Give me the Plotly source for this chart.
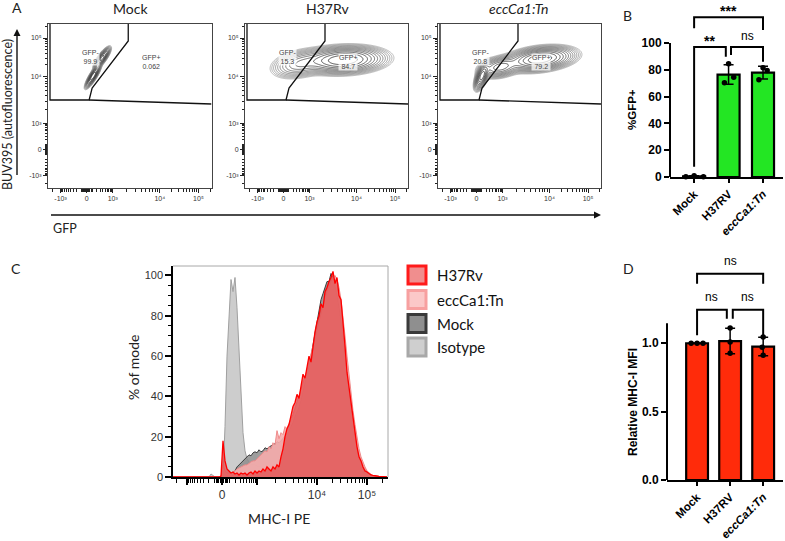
import numpy as np
import plotly.graph_objects as go

W, H = 785, 541

# ======================= DATA =======================
# ---- Panel A: flow contour plots (values on the biexponential display scale) ----
FLOW_TITLES = ["Mock", "H37Rv", "<i>eccCa1:Tn</i>"]
# populations: (centre x, centre y, spread x, spread y, correlation, weight)
POP_MOCK = [(45, 112, 3.0, 4.6, 0.85, 1.0), (54, 130, 3.2, 4.2, 0.8, 0.85)]
POP_H37RV = [(98, 128, 17.0, 5.5, 0.12, 1.0), (55, 124, 12.0, 6.0, 0.3, 0.25)]
POP_ECC = [(102, 129, 14.0, 5.0, 0.3, 1.0), (62, 121, 9.0, 4.5, 0.3, 0.45),
           (44, 112, 3.0, 5.5, 0.6, 0.9)]
POPULATIONS = [POP_MOCK, POP_H37RV, POP_ECC]
GFP_NEG_PCT = ["99.9", "15.3", "20.8"]
GFP_POS_PCT = ["0.062", "84.7", "79.2"]
GATE_NEG_X = [2, 2, 41, 44, 80, 80]
GATE_NEG_Y = [164, 88, 88, 100, 147, 164]
GATE_POS_X = [41, 163]
GATE_POS_Y = [88, 84]
LABEL_NEG_XY = (42, 131)
LABEL_POS_XY = (103, 126)

# ---- Panel B: %GFP+ ----
CATS = ["Mock", "H37RV", "eccCa1:Tn"]
GFP_MOCK = [0.1, 1.0, 0.2]
GFP_H37RV = [70.4, 84.5, 74.4]
GFP_ECC = [72.5, 81.5, 79.5]
B_JITTER = [[-0.24, 0.0, 0.27], [-0.12, 0.0, 0.15], [-0.12, 0.0, 0.12]]

# ---- Panel D: relative MHC-I MFI ----
MFI_MOCK = [1.0, 1.0, 1.0]
MFI_H37RV = [0.927, 1.01, 1.112]
MFI_ECC = [0.912, 0.97, 1.046]
D_JITTER = [[-0.18, 0.0, 0.18], [0.0, 0.0, 0.0], [0.0, -0.03, 0.0]]

# ---- Panel C: MHC-I PE histograms (% of mode) on display scale ----
HIST_X = list(range(0, 216, 2))
HIST_ISOTYPE = [
    0, 0, 0, 0, 0, 0, 0, 0, 0, 0, 0, 0, 0, 0, 0, 0, 0, 0,
    0, 1.5, 0.5, 0, 0, 0, 0, 1, 25, 60,
    78, 98, 92, 99, 84, 62, 38, 22, 13, 9,
    7.5, 6.5, 6.5, 6, 5.5, 5.5, 5, 5, 4.5, 4.5,
    4, 4, 3.5, 3, 3, 2.5, 2, 2, 1.5, 1,
    1, 0.5, 0.5, 0, 0, 0, 0, 0, 0, 0,
    0, 0, 0, 0, 0, 0, 0, 0, 0, 0,
    0, 0, 0, 0, 0, 0, 0, 0, 0, 0,
    0, 0, 0, 0, 0, 0, 0, 0, 0, 0,
    0, 0, 0, 0, 0, 0, 0, 0, 0, 0]
HIST_MOCK = [
    0, 0, 0, 0, 0, 0, 0, 0, 0, 0, 0, 0, 0, 0, 0, 0, 0, 0,
    0, 0, 0, 0, 0, 0, 0, 0, 0, 0,
    0, 0, 1, 3, 5, 6, 7, 8, 9, 10,
    11, 10.5, 12, 12.5, 12, 13.5, 12.5, 13, 14.5, 14,
    15, 15.5, 16, 16.5, 17.5, 17, 18, 19, 20.5, 21,
    22.5, 25, 27, 30, 32, 34.5, 38, 42, 46, 50,
    55, 60, 66, 72, 78, 83, 88, 91, 94, 97,
    97, 101, 99, 95, 90, 84, 78, 70, 60, 50,
    42, 34, 27, 21, 15, 11, 8, 6, 4, 2.5,
    1.5, 0.5, 0, 0, 0, 0, 0, 0, 0, 0]
HIST_ECC = [
    0, 0, 0, 0, 0, 0, 0, 0, 0, 0, 0, 0, 0, 0, 0, 0, 0, 0,
    0, 0, 0, 0, 0, 0, 0, 6, 3, 2,
    2, 2, 2.5, 3, 4, 4.5, 5, 5.5, 6, 6,
    7, 7.5, 8, 8, 9, 10, 10.5, 12, 13, 12.5,
    15, 14, 17, 16, 23, 19, 22, 21, 25, 24,
    27, 29, 31, 34, 37, 40, 44, 47, 50, 53,
    57, 61, 65, 69, 74, 78, 82, 86, 89, 92,
    95, 97, 99, 100, 98, 94, 88, 80, 70, 60,
    50, 41, 33, 26, 19, 14, 10, 7, 5, 3,
    2, 1, 0.5, 0, 0, 0, 0, 0, 0, 0]
HIST_H37RV = [
    0, 0, 0, 0, 0, 0, 0, 0, 0, 0, 0, 0, 0, 0, 0, 0, 0, 0,
    0, 0, 0, 0, 0, 0, 0.5, 18, 8, 4,
    3, 2, 2.5, 1.5, 2, 1, 2, 1.5, 2, 1,
    2, 2.5, 1.5, 3, 2, 3, 2.5, 4, 3, 5,
    4, 3, 5, 4, 6, 5, 10, 14, 20, 24,
    26, 31, 35, 37, 41, 39, 46, 51, 49, 55,
    60, 57, 66, 72, 77, 80, 86, 84, 92, 94,
    97, 99, 102, 96, 99, 90, 88, 78, 65, 52,
    44, 36, 28, 21, 15, 10, 8, 5, 3, 2.5,
    1.5, 1, 0.8, 0.5, 0.5, 0.3, 0.2, 0, 0, 0]
LEGEND_NAMES = ["H37Rv", "eccCa1:Tn", "Mock", "Isotype"]

# ======================= HELPERS =======================
def xp(p):
    return p / W


def yp(p):
    return 1 - p / H


def biex(v, zero, half, dec1, dec2):
    """display position of a fluorescence value on a logicle-like axis"""
    if abs(v) <= 1000:
        return zero + half * np.sign(v) * np.arcsinh(abs(v) / 200) / np.arcsinh(5)
    if v < -1000:
        return zero - half - half * np.log10(-v / 1000)
    if v <= 1e4:
        return zero + half + dec1 * np.log10(v / 1000)
    return zero + half + dec1 + dec2 * np.log10(v / 1e4)


def minor_vals(zero, half, dec1, dec2, lo, hi):
    vals = []
    for k in list(range(20, 100, 20)) + list(range(100, 1000, 100)):
        vals += [k, -k]
    vals += [k * 1e3 for k in range(2, 10)] + [k * 1e4 for k in range(2, 10)]
    vals += [2e5, -2000]
    out = [biex(v, zero, half, dec1, dec2) for v in vals]
    return sorted(p for p in out if lo <= p <= hi)


MAJOR_VALS = [-1000, 0, 1000, 1e4, 1e5]
A_TICKS = [biex(v, 38.5, 26, 47, 38.5) for v in MAJOR_VALS]
A_MINOR = minor_vals(38.5, 26, 47, 38.5, 0, 163)
A_TEXT = ["-10\u00b3", "0", "10\u00b3", "10\u2074", "10\u2075"]
C_TICKS = [biex(v, 49, 35, 60, 50) for v in MAJOR_VALS]
C_MINOR = minor_vals(49, 35, 60, 50, 0, 215)
C_TEXT = [" ", "0", " ", "10\u2074", "10\u2075"]

FLOW_FONT = "Lato, Open Sans, sans-serif"
ARIAL = "Liberation Sans, Arial, DejaVu Sans, sans-serif"

fig = go.Figure()
layout = dict(width=W, height=H, margin=dict(l=0, r=0, t=0, b=0),
              paper_bgcolor="white", plot_bgcolor="white", template="none",
              showlegend=False)
annotations = []
shapes = []


def paper_text(text, x, y, size, family=FLOW_FONT, angle=0, xanchor="center",
               color="#222"):
    annotations.append(dict(text=text, x=xp(x), y=yp(y), xref="paper", yref="paper",
                            xanchor=xanchor, yanchor="middle", showarrow=False,
                            textangle=angle,
                            font=dict(size=size, family=family, color=color)))


# ======================= PANEL A =======================
FLOW_X = [(48, 211.5), (245, 408), (438, 601)]
FLOW_TITLE_X = [130, 327, 519]
xs = np.arange(0, 163.6, 0.6)
ys = np.arange(0, 164.6, 0.6)
XX, YY = np.meshgrid(xs, ys)
for i, pops in enumerate(POPULATIONS):
    sfx = "" if i == 0 else str(i + 1)
    z = np.zeros_like(XX)
    for cx, cy, sx, sy, rho, w in pops:
        dx = (XX - cx) / sx
        dy = (YY - cy) / sy
        z += w * np.exp(-(dx * dx - 2 * rho * dx * dy + dy * dy) / (2 * (1 - rho ** 2)))
    zl = np.log10(np.maximum(z / z.max(), 1e-4))
    fig.add_trace(go.Contour(
        x=xs, y=ys, z=zl, xaxis="x" + sfx, yaxis="y" + sfx,
        contours=dict(start=-1.95, end=-0.05, size=0.15, coloring="lines"),
        line=dict(width=0.8), colorscale=[[0, "#a8a8a8"], [1, "#222222"]],
        zmin=-2, zmax=0, zauto=False, showscale=False, hoverinfo="skip"))
    fig.add_trace(go.Scatter(x=GATE_NEG_X, y=GATE_NEG_Y, mode="lines",
                             line=dict(color="#111", width=1.3),
                             xaxis="x" + sfx, yaxis="y" + sfx, hoverinfo="skip"))
    fig.add_trace(go.Scatter(x=GATE_POS_X, y=GATE_POS_Y, mode="lines",
                             line=dict(color="#111", width=1.3),
                             xaxis="x" + sfx, yaxis="y" + sfx, hoverinfo="skip"))
    common = dict(showgrid=False, zeroline=False, showline=True, linecolor="#444",
                  linewidth=1, mirror=True, tickmode="array", tickvals=A_TICKS,
                  ticktext=A_TEXT, ticks="outside", ticklen=4, tickwidth=1,
                  tickcolor="#222", tickfont=dict(size=7, family=ARIAL, color="#333"),
                  minor=dict(tickmode="array", tickvals=A_MINOR, ticks="outside",
                             ticklen=2.5, tickwidth=0.8, tickcolor="#222"))
    layout["xaxis" + sfx] = dict(domain=[xp(FLOW_X[i][0]), xp(FLOW_X[i][1])],
                                 anchor="y" + sfx, range=[0, 163], **common)
    layout["yaxis" + sfx] = dict(domain=[yp(188), yp(24)], anchor="x" + sfx,
                                 range=[0, 164], **common)
    paper_text(FLOW_TITLES[i], FLOW_TITLE_X[i], 9, 14)
    for (lx, ly), lab in ((LABEL_NEG_XY, "GFP-<br>" + GFP_NEG_PCT[i]),
                          (LABEL_POS_XY, "GFP+<br>" + GFP_POS_PCT[i])):
        annotations.append(dict(text=lab, x=lx, y=ly, xref="x" + sfx, yref="y" + sfx,
                                showarrow=False, bgcolor="rgba(255,255,255,0.75)",
                                borderpad=0, xanchor="center", yanchor="middle",
                                font=dict(size=7, family=ARIAL, color="#444")))

# arrows and axis names for A
annotations.append(dict(x=xp(17), y=yp(29), ax=0, ay=156, xref="paper", yref="paper",
                        axref="pixel", ayref="pixel", showarrow=True, arrowhead=2,
                        arrowsize=1, arrowwidth=1.4, arrowcolor="#111", text=" "))
annotations.append(dict(x=xp(601), y=yp(215), ax=-553, ay=0, xref="paper", yref="paper",
                        axref="pixel", ayref="pixel", showarrow=True, arrowhead=2,
                        arrowsize=1, arrowwidth=1.4, arrowcolor="#111", text=" "))
paper_text("BUV395 (autofluorescence)", 7, 115, 12.5, angle=-90)
paper_text("GFP", 51, 228, 12.5, xanchor="left")

# ======================= PANELS B and D =======================
def bar_panel(sfx, values, jitter, color, xdom, ydom, xrange, yrange, ytickvals,
              yticktext, axis_top, width, brackets, labels):
    means = [float(np.mean(v)) for v in values]
    sds = [float(np.std(v, ddof=1)) for v in values]
    fig.add_trace(go.Bar(x=[0, 1, 2], y=means, width=width,
                         marker=dict(color=color, line=dict(color="black", width=2.2)),
                         error_y=dict(type="data", array=sds, color="black",
                                      thickness=1.5, width=5),
                         xaxis="x" + sfx, yaxis="y" + sfx, hoverinfo="skip"))
    px_, py_ = [], []
    for i, v in enumerate(values):
        for j, val in enumerate(v):
            px_.append(i + jitter[i][j])
            py_.append(val)
    fig.add_trace(go.Scatter(x=px_, y=py_, mode="markers",
                             marker=dict(color="black", size=5.5),
                             xaxis="x" + sfx, yaxis="y" + sfx, hoverinfo="skip",
                             cliponaxis=False))
    bx, by = [], []
    for x0, x1, yb, yl0, yl1 in brackets:
        bx += [x0, x0, x1, x1, None]
        by += [yl0, yb, yb, yl1, None]
    fig.add_trace(go.Scatter(x=bx, y=by, mode="lines",
                             line=dict(color="black", width=2),
                             xaxis="x" + sfx, yaxis="y" + sfx, hoverinfo="skip"))
    for (x0, x1, yb, _, _), (txt, size, shift) in zip(brackets, labels):
        annotations.append(dict(text=txt, x=(x0 + x1) / 2, y=yb, xref="x" + sfx,
                                yref="y" + sfx, showarrow=False, xanchor="center",
                                yanchor="bottom", yshift=shift,
                                font=dict(size=size, family=ARIAL, color="black")))
    layout["xaxis" + sfx] = dict(
        domain=[xp(xdom[0]), xp(xdom[1])], anchor="y" + sfx, range=xrange,
        showgrid=False, zeroline=False, showline=True, linecolor="black", linewidth=2,
        tickmode="array", tickvals=[0, 1, 2],
        ticktext=["<b>Mock</b>", "<b>H37RV</b>", "<b><i>eccCa1:Tn</i></b>"],
        tickangle=-45, ticks="outside", ticklen=4, tickwidth=2, tickcolor="black",
        tickfont=dict(size=11.5, family=ARIAL, color="black"))
    layout["yaxis" + sfx] = dict(
        domain=[yp(ydom[1]), yp(ydom[0])], anchor="x" + sfx, range=yrange,
        showgrid=False, zeroline=False, showline=False, tickmode="array",
        tickvals=ytickvals, ticktext=yticktext, ticks="outside", ticklen=5,
        tickwidth=2, tickcolor="black",
        tickfont=dict(size=12, family=ARIAL, color="black"))
    shapes.append(dict(type="line", xref="x" + sfx + " domain", yref="y" + sfx,
                       x0=0, x1=0, y0=0, y1=axis_top,
                       line=dict(color="black", width=2)))


B_BRACKETS = [(0, 2, 119.2, 111, 109.7), (0, 0.92, 97, 7.7, 89.8),
              (1.07, 2, 97, 91, 86)]
B_LABELS = [("<b>***</b>", 14, -4), ("<b>**</b>", 14, -4), ("ns", 12, 2)]
bar_panel("4", [GFP_MOCK, GFP_H37RV, GFP_ECC], B_JITTER, "#23e623",
          (670, 783), (13.5, 177), [-0.7, 2.58], [0, 122],
          [0, 20, 40, 60, 80, 100], ["<b>%d</b>" % v for v in [0, 20, 40, 60, 80, 100]],
          100, 0.64, B_BRACKETS, B_LABELS)

D_BRACKETS = [(0, 2, 1.509, 1.436, 1.436), (0, 0.9, 1.246, 1.058, 1.18),
              (1.08, 2, 1.246, 1.18, 1.058)]
D_LABELS = [("ns", 12, 4), ("ns", 12, 4), ("ns", 12, 4)]
bar_panel("5", [MFI_MOCK, MFI_H37RV, MFI_ECC], D_JITTER, "#ff2b0a",
          (667, 783), (270.8, 480), [-0.91, 2.6], [0, 1.53],
          [0, 0.5, 1.0], ["<b>0.0</b>", "<b>0.5</b>", "<b>1.0</b>"],
          1.146, 0.66, D_BRACKETS, D_LABELS)

paper_text("<b>%GFP+</b>", 632, 110, 11.5, family=ARIAL, angle=-90, color="black")
paper_text("<b>Relative MHC-I MFI</b>", 633, 402, 12, family=ARIAL, angle=-90,
           color="black")

# ======================= PANEL C =======================
HIST_STYLE = [
    (HIST_ISOTYPE, "#a0a0a0", "rgba(205,205,205,1)", 1.0),
    (HIST_MOCK, "#3c3c3c", "rgba(140,140,140,0.85)", 1.0),
    (HIST_ECC, "#f08a8a", "rgba(246,172,172,0.9)", 1.0),
    (HIST_H37RV, "#ff0000", "rgba(226,82,82,0.78)", 1.3),
]
for yv, lc, fc, lw in HIST_STYLE:
    fig.add_trace(go.Scatter(x=HIST_X, y=yv, mode="lines", fill="tozeroy",
                             line=dict(color=lc, width=lw), fillcolor=fc,
                             xaxis="x6", yaxis="y6", hoverinfo="skip"))
layout["xaxis6"] = dict(
    domain=[xp(173), xp(388)], anchor="y6", range=[0, 215], showgrid=False,
    zeroline=False, showline=True, linecolor="black", linewidth=1.5,
    tickmode="array", tickvals=C_TICKS, ticktext=C_TEXT, ticks="outside",
    ticklen=6, tickwidth=2, tickcolor="black",
    tickfont=dict(size=12, family=ARIAL, color="#333"),
    minor=dict(tickmode="array", tickvals=C_MINOR, ticks="outside", ticklen=4,
               tickwidth=1, tickcolor="black"))
layout["yaxis6"] = dict(
    domain=[yp(477), yp(266)], anchor="x6", range=[0, 104.7], showgrid=False,
    zeroline=False, showline=True, linecolor="black", linewidth=1.5,
    tickmode="array", tickvals=[0, 20, 40, 60, 80, 100], ticks="outside",
    ticklen=6, tickwidth=2, tickcolor="black",
    tickfont=dict(size=11, family=ARIAL, color="#333"),
    minor=dict(dtick=5, ticks="outside", ticklen=3.5, tickwidth=1, tickcolor="black"))
shapes.append(dict(type="line", xref="x6 domain", yref="y6 domain", x0=0, x1=1,
                   y0=1, y1=1, line=dict(color="#a8a8a8", width=1)))
shapes.append(dict(type="line", xref="x6 domain", yref="y6 domain", x0=1, x1=1,
                   y0=0, y1=1, line=dict(color="#a8a8a8", width=1)))
paper_text("MHC-I PE", 279, 518, 14)
paper_text("% of mode", 133, 367, 14, angle=-90)

# legend for C
LEG_STYLE = [("#ff1a1a", "#f08e8e"), ("#f7a0a0", "#fbc8c8"),
             ("#3a3a3a", "#8f8f8f"), ("#a8a8a8", "#cfcfcf")]
LEG_Y = [275, 299.5, 323.5, 347]
for name, (bc, fc), cy in zip(LEGEND_NAMES, LEG_STYLE, LEG_Y):
    shapes.append(dict(type="rect", xref="paper", yref="paper", x0=xp(408), x1=xp(426),
                       y0=yp(cy + 9), y1=yp(cy - 9), fillcolor=fc,
                       line=dict(color=bc, width=3)))
    paper_text(name, 435, cy, 15, xanchor="left", color="#111")

# panel letters
for letter, lx, ly in (("A", 17, 8), ("B", 627, 15), ("C", 16, 268), ("D", 628, 268)):
    paper_text(letter, lx, ly, 14)

layout["annotations"] = annotations
layout["shapes"] = shapes
fig.update_layout(**layout)
fig.write_html("out.html", config={"displayModeBar": False},
               post_script="document.body.style.margin='0px';"
                           "document.body.style.padding='0px';")
